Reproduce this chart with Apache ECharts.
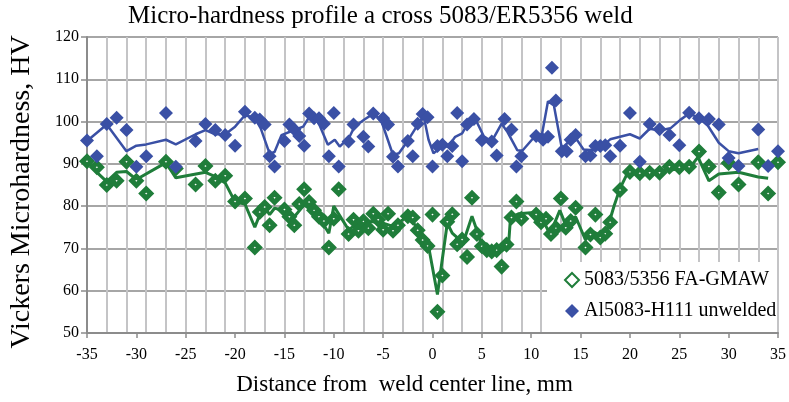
<!DOCTYPE html>
<html><head><meta charset="utf-8">
<script src="https://cdn.jsdelivr.net/npm/echarts@6/dist/echarts.min.js"></script>
<style>html,body{margin:0;padding:0;background:#fff}#c{width:789px;height:402px}</style>
</head><body><div id="c"></div>
<script>
const titleText = 'Micro-hardness profile a cross 5083/ER5356 weld';
const xName = 'Distance from  weld center line, mm';
const yName = 'Vickers Microhardness, HV';
const seriesNames = ['5083/5356 FA-GMAW', 'Al5083-H111 unwelded'];
const xTickLabels = [-35, -30, -25, -20, -15, -10, -5, 0, 5, 10, 15, 20, 25, 30, 35];
const xGridStep = 2;
const yTickLabels = [50, 60, 70, 80, 90, 100, 110, 120];

const greenPoints = [
[-35,90.6],[-34,89.2],[-33,85.0],[-32,86.0],[-31,90.5],[-30,86.0],[-29,83.0],[-27,90.5],[-26,88.9],
[-24,85.1],[-23,89.5],[-22,86.0],[-21,87.2],[-20,81.1],[-19,81.8],[-18,70.2],[-17.5,78.6],[-17,79.8],[-16.5,75.5],[-16,82.0],
[-15,79.2],[-14.5,77.5],[-14,75.5],[-13.5,80.5],[-13,84.0],[-12.5,81.0],[-12,79.0],[-11.5,77.5],[-11,76.5],[-10.5,70.2],[-10,77.0],[-9.5,84.0],
[-8.5,73.4],[-8,76.8],[-7.5,74.2],[-7,76.4],[-6.5,74.8],[-6,78.2],[-5.5,76.8],[-5,74.4],[-4.5,78.2],[-4,74.2],[-3.5,75.5],[-2.5,77.6],[-2,77.3],[-1.5,74.3],[-1,72.0],[-0.5,70.6],
[0,78.0],[0.5,55.0],[1,63.6],[1.5,76.3],[2,78.1],[2.5,71.0],[3,72.1],[3.5,68.0],[4,82.0],[4.5,73.4],[5,70.5],[5.5,69.6],[6,69.3],[6.5,69.6],[7,65.7],[7.5,70.9],[8,77.3],[8.5,81.1],[9,77.0],
[10.5,78.0],[11,76.2],[11.5,77.0],[12,73.4],[12.5,74.8],[13,81.8],[13.5,74.9],[14,76.5],[14.5,79.6],[15.5,70.2],[16,73.3],[16.5,78.0],[17,72.6],[17.5,73.5],[18,76.2],
[19,83.8],[20,88.1],[21,87.8],[22,87.9],[23,87.9],[24,89.3],[25,89.2],[26,89.3],[27,92.9],[28,89.4],[29,83.2],[30,90.2],[31,85.1],[33,90.4],[34,83.0],[35,90.4]
];

const bluePoints = [
[-35,95.5],[-34,91.8],[-33,99.4],[-32,100.9],[-31,98.0],[-30,89.3],[-29,91.8],[-27,102.0],[-26,89.3],
[-24,95.4],[-23,99.4],[-22,98.0],[-21,96.8],[-20,94.3],[-19,102.3],[-18,100.9],[-17.5,100.5],[-17,99.3],[-16.5,91.8],[-16,89.4],
[-15,95.4],[-14.5,99.3],[-14,98.1],[-13.5,96.6],[-13,94.3],[-12.5,101.9],[-12,100.8],[-11.5,100.8],[-11,99.5],[-10.5,91.8],[-10,102.0],[-9.5,89.4],
[-8.5,95.3],[-8,99.3],[-7,96.4],[-6.5,94.1],[-6,101.9],[-5,100.8],[-4.5,99.3],[-4,91.7],[-3.5,89.4],[-2.5,95.4],[-2,91.8],[-1.5,99.5],[-1,101.8],[-0.5,101.0],
[0,89.4],[0.5,94.2],[1,94.5],[1.5,91.8],[2,94.2],[2.5,102.0],[3,90.6],[3.5,99.3],[4.2,100.6],[5,95.6],[6,95.3],[6.5,92.0],[7.3,100.6],[8,98.1],[8.5,89.4],[9,91.8],
[10.5,96.6],[11.2,95.7],[11.7,96.4],[12.1,112.7],[12.5,105.0],[13.1,93.0],[13.6,93.0],[14,95.7],[14.5,96.8],[15.5,91.8],[16,92.0],[16.5,94.2],[17,94.2],[17.5,94.4],[18,91.8],
[19,94.3],[20,102.0],[21,90.5],[22,99.4],[23,98.2],[24,96.8],[25,94.4],[26,102.1],[27,100.8],[28,100.6],[29,99.3],[30,91.4],[31,89.5],[33,98.1],[34,89.5],[35,93.0]
];

const greenTrend = [
[-35,90.6],[-34,88.0],[-33,85.8],[-32,88.0],[-31,88.2],[-30,86.3],[-27,90.3],[-26,86.7],[-23,88.0],[-22,87.0],[-21,85.5],[-20,81.0],[-19,80.5],[-18,75.0],[-17.5,78.0],[-17,79.8],[-16.5,78.0],[-16,79.5],
[-15,79.0],[-14,77.5],[-13,80.3],[-12,78.5],[-11,75.5],[-10.5,73.6],[-10,80.0],[-8.5,74.4],[-7.5,76.0],[-6.5,76.4],[-5,76.0],[-4,75.2],[-3,76.8],[-2.4,78.0],[-1.5,74.4],[-0.4,70.5],
[0.5,59.1],[1.5,76.0],[2,73.6],[3.1,71.3],[4,77.6],[4.6,73.6],[5,70.5],[6,69.4],[7,69.4],[7.7,70.6],[7.9,77.3],[8.7,78.2],[10.3,78.5],[11.4,75.7],[11.9,73.4],[12.9,79.0],[13.5,75.5],[14.5,77.5],
[15.5,72.0],[16,74.3],[17,73.1],[17.7,74.6],[18.4,80.1],[19,84.2],[19.9,88.5],[21,88.0],[23,88.3],[25,88.8],[26.2,89.5],[26.9,91.6],[28,86.0],[29,87.6],[31,88.0],[33,86.9],[34,86.6]
];

const blueTrend = [
[-35,95.4],[-33,99.3],[-31,93.0],[-30,94.3],[-29,94.6],[-27,95.7],[-26,94.6],[-24,97.0],[-23,98.0],[-22,97.0],[-21,97.0],[-20,98.8],[-19,101.5],[-18,100.9],[-17.4,98.4],[-16.5,92.4],[-16,92.8],[-15.3,96.8],
[-14,98.0],[-13.1,98.8],[-12.45,101.2],[-11.6,100.0],[-10.6,94.5],[-9.9,95.7],[-9.4,94.1],[-8.4,96.4],[-7.9,98.8],[-6.9,100.5],[-5.9,102.0],[-5.1,99.6],[-4.0,92.1],[-3.4,92.5],[-2.55,95.3],[-1.5,99.2],
[-0.9,101.4],[-0.4,95.7],[0.1,92.5],[1.0,94.1],[1.6,94.1],[2.3,96.4],[3.0,97.2],[3.5,99.2],[4.3,100.8],[5.2,96.5],[6.0,95.3],[7.0,99.5],[7.6,97.5],[8.6,93.2],[9.1,93.1],[10.4,96.6],[11.1,97.1],
[11.7,104.8],[12.3,103.8],[13.1,93.7],[14.4,96.5],[15.3,93.4],[16.3,93.2],[17.2,94.2],[18.0,95.8],[19.0,96.4],[20.0,97.0],[21.0,96.0],[22.0,98.3],[23.0,97.9],[24.1,98.4],[25.1,100.4],[26.0,101.9],
[26.9,101.0],[27.9,99.0],[29.0,95.0],[30.0,93.0],[31.0,92.5],[33.0,93.5]
];

const GREEN = '#1f7d3a';
const BLUE = '#3a50a5';
const FONT = 'Liberation Serif';

const ctx = document.createElement('canvas').getContext('2d');
ctx.font = '25px "' + FONT + '"';
const titleW = ctx.measureText(titleText).width;

const chart = echarts.init(document.getElementById('c'), null, {renderer: 'canvas'});
chart.setOption({
  animation: false,
  backgroundColor: '#fff',
  title: {
    text: titleText, left: Math.round(380 - titleW / 2), top: 4, padding: 0,
    textStyle: {fontFamily: FONT, fontSize: 25, fontWeight: 'normal', color: '#000'}
  },
  grid: {left: 83, right: 11, top: 37, bottom: 69},
  legend: {
    data: seriesNames, orient: 'vertical', left: 564, top: 270, itemGap: 11,
    itemWidth: 14, itemHeight: 14, padding: 0, z: 10,
    textStyle: {fontFamily: FONT, fontSize: 20, color: '#000', padding: [0, 0, 0, 0]}
  },
  graphic: [{
    type: 'rect', z: 3, shape: {x: 547, y: 262, width: 230, height: 70},
    style: {fill: '#fff'}
  }],
  xAxis: [{
    type: 'value', min: xTickLabels[0], max: xTickLabels[xTickLabels.length - 1],
    interval: xTickLabels[1] - xTickLabels[0],
    name: xName, nameLocation: 'middle', nameGap: 40,
    nameTextStyle: {fontFamily: FONT, fontSize: 23, color: '#000', padding: [0, 56, 0, 0]},
    axisLine: {onZero: false, lineStyle: {color: '#8c8c8c', width: 2}},
    axisTick: {show: true, length: 5, lineStyle: {color: '#8c8c8c', width: 1.5}},
    axisLabel: {fontFamily: FONT, fontSize: 16, color: '#000', margin: 14},
    splitLine: {show: false}
  }, {
    type: 'value', position: 'top', min: xTickLabels[0], max: xTickLabels[xTickLabels.length - 1],
    interval: xGridStep,
    axisLine: {show: false}, axisTick: {show: false}, axisLabel: {show: false},
    splitLine: {show: true, lineStyle: {color: '#c4c4c6', width: 2}}
  }],
  yAxis: {
    type: 'value', min: yTickLabels[0], max: yTickLabels[yTickLabels.length - 1],
    interval: yTickLabels[1] - yTickLabels[0],
    name: yName, nameLocation: 'middle', nameGap: 51, nameRotate: 90,
    nameTextStyle: {fontFamily: FONT, fontSize: 28, color: '#000', padding: [0, 14, 0, 0]},
    axisLine: {show: true, onZero: false, lineStyle: {color: '#8c8c8c', width: 2}},
    axisTick: {show: true, length: 6, lineStyle: {color: '#8c8c8c', width: 1.5}},
    axisLabel: {fontFamily: FONT, fontSize: 16, color: '#000', margin: 8},
    splitLine: {show: true, lineStyle: {color: '#a6a6a6', width: 2}}
  },
  series: [{
    name: 'green trend', type: 'line', data: greenTrend, symbol: 'none', z: 2,
    lineStyle: {color: GREEN, width: 3}, silent: true
  }, {
    name: 'blue trend', type: 'line', data: blueTrend, symbol: 'none', z: 2,
    lineStyle: {color: BLUE, width: 2.5}, silent: true
  }, {
    name: seriesNames[0], type: 'scatter', data: greenPoints, symbol: 'diamond', symbolSize: 9, z: 3,
    itemStyle: {color: '#fff', borderColor: GREEN, borderWidth: 5, opacity: 1}
  }, {
    name: seriesNames[1], type: 'scatter', data: bluePoints, symbol: 'diamond', symbolSize: 14, z: 3,
    itemStyle: {color: BLUE, opacity: 1}
  }]
});
</script>
</body></html>
